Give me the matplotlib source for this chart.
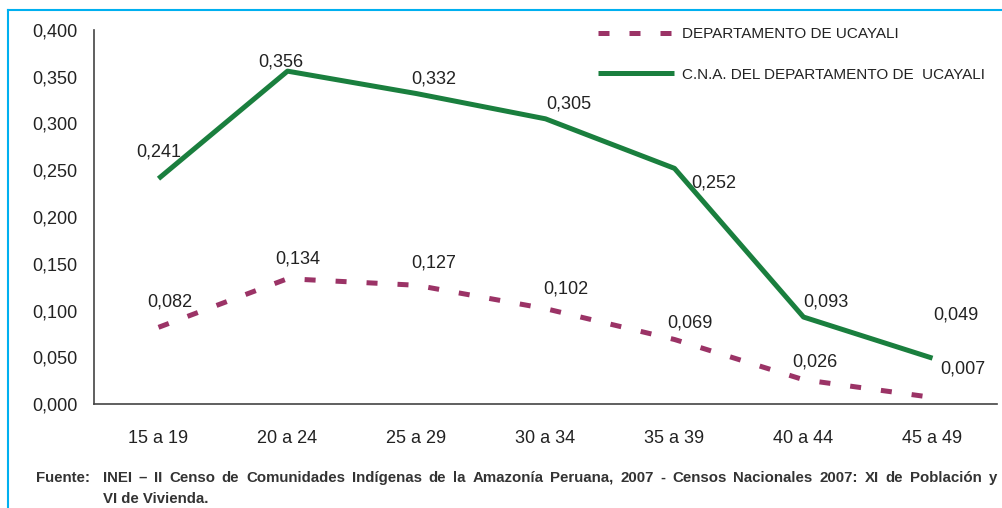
import matplotlib.pyplot as plt
from matplotlib.lines import Line2D
from matplotlib.ticker import FuncFormatter

plt.rcParams['font.family'] = ['Liberation Sans Narrow', 'Liberation Sans', 'DejaVu Sans']

# datos
grupos = ['15 a 19', '20 a 24', '25 a 29', '30 a 34', '35 a 39', '40 a 44', '45 a 49']
ucayali = [0.082, 0.134, 0.127, 0.102, 0.069, 0.026, 0.007]
cna = [0.241, 0.356, 0.332, 0.305, 0.252, 0.093, 0.049]
# desplazamiento de las etiquetas (px)
off_ucayali = [(11, 25), (10, 20), (17, 22), (20, 20), (15, 16), (11, 18), (30, 28)]
off_cna = [(0, 27), (-7, 9), (17, 15), (23, 15), (39, -15), (22, 15), (23, 43)]

fuente_1 = ('INEI \u2013 II Censo de Comunidades Indígenas de la Amazonía Peruana, 2007 - '
            'Censos Nacionales 2007: XI de Población y')
fuente_2 = 'VI de Vivienda.'

verde = '#1a7f3e'
magenta = '#9b3366'

fig = plt.figure(figsize=(10.03, 5.08), dpi=100)
ax = fig.add_axes([94 / 1003, 1 - 404 / 508, 903 / 1003, 374 / 508])

x = range(len(grupos))
ax.plot(x, ucayali, color=magenta, lw=3.6, dashes=(2.2, 4), dash_capstyle='butt',
        label='DEPARTAMENTO DE UCAYALI')
ax.plot(x, cna, color=verde, lw=3.6, solid_capstyle='butt',
        label='C.N.A. DEL DEPARTAMENTO DE  UCAYALI')

for xi, v, o in zip(x, ucayali, off_ucayali):
    ax.annotate(f'{v:.3f}'.replace('.', ','), (xi, v), xytext=o, textcoords='offset pixels',
                ha='center', va='center', fontsize=13, color='#222222')
for xi, v, o in zip(x, cna, off_cna):
    ax.annotate(f'{v:.3f}'.replace('.', ','), (xi, v), xytext=o, textcoords='offset pixels',
                ha='center', va='center', fontsize=13, color='#222222')

ax.set_xlim(-0.5, 6.5)
ax.set_ylim(0, 0.4)
ax.set_yticks([0, 0.05, 0.1, 0.15, 0.2, 0.25, 0.3, 0.35, 0.4])
ax.yaxis.set_major_formatter(FuncFormatter(lambda v, p: f'{v:.3f}'.replace('.', ',')))
ax.set_xticks(list(x))
ax.set_xticklabels(grupos)
ax.tick_params(length=0, labelsize=13, colors='#222222')
ax.tick_params(axis='y', pad=12)
ax.tick_params(axis='x', pad=19)
for s in ['top', 'right']:
    ax.spines[s].set_visible(False)
for s in ['left', 'bottom']:
    ax.spines[s].set_color('#444444')
    ax.spines[s].set_linewidth(1.2)

ax.legend(loc='upper left', bbox_to_anchor=(490 / 903, 1.045), frameon=False,
          fontsize=11, handlelength=5.0, handletextpad=0.5, labelspacing=1.75,
          labelcolor='#222222')

# marco azul
fig.add_artist(Line2D([8 / 1003, 8 / 1003], [0, 1 - 10 / 508], color='#00b0f0', lw=1.5))
fig.add_artist(Line2D([8 / 1003, 1], [1 - 10 / 508, 1 - 10 / 508], color='#00b0f0', lw=1.5))

estilo = dict(fontsize=10.8, fontweight='bold', color='#333333', va='baseline')
y1 = 1 - 482 / 508
fig.text(36 / 1003, y1, 'Fuente:', **estilo)

# primera línea justificada entre x=103 y x=997
renderer = fig.canvas.get_renderer()
palabras = fuente_1.split(' ')
textos = [fig.text(0, y1, p, **estilo) for p in palabras]
anchos = [t.get_window_extent(renderer).width for t in textos]
hueco = (997 - 103 - sum(anchos)) / (len(palabras) - 1)
pos = 103
for t, w in zip(textos, anchos):
    t.set_x(pos / 1003)
    pos += w + hueco
fig.text(103 / 1003, 1 - 503 / 508, fuente_2, **estilo)

fig.savefig('out.png', dpi=100)
